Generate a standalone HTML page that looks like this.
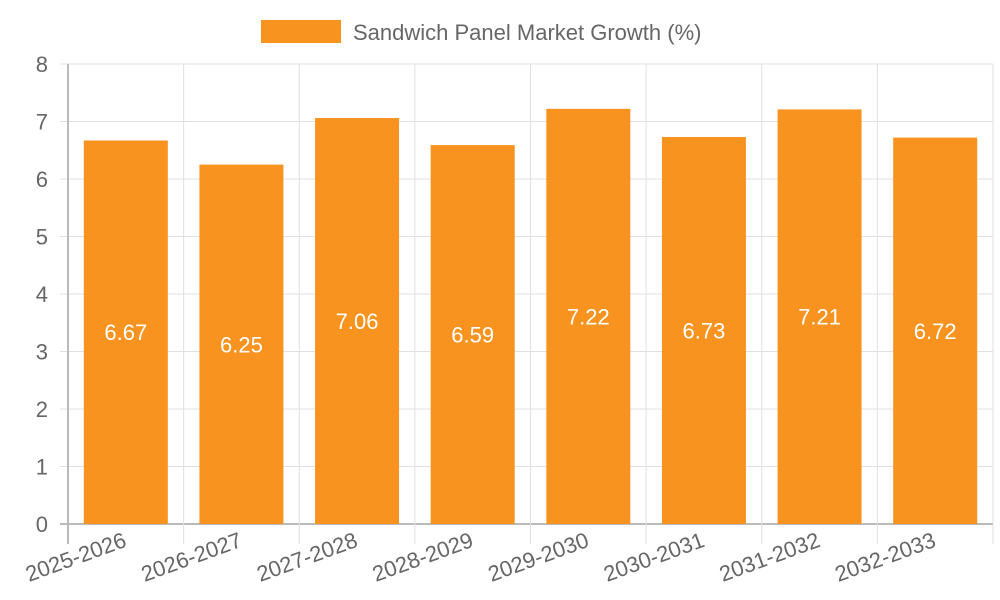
<!DOCTYPE html>
<html><head><meta charset="utf-8"><style>body{margin:0;background:#fff}svg{display:block;font-family:"Liberation Sans",sans-serif}</style></head>
<body>
<svg id="chart" width="1000" height="600">
<rect x="261" y="20" width="80" height="23" fill="#f7931e"/>
<text x="353" y="40" font-size="22" fill="#666">Sandwich Panel Market Growth (%)</text>
<g id="grid"></g><g id="bars"></g>
</svg>
<script>
const categories=["2025-2026","2026-2027","2027-2028","2028-2029","2029-2030","2030-2031","2031-2032","2032-2033"];
const values=[6.67,6.25,7.06,6.59,7.22,6.73,7.21,6.72];
const yTicks=[0,1,2,3,4,5,6,7,8];
const NS="http://www.w3.org/2000/svg";
const L=68,R=993,T=64,B=524,yMax=8;
const y=v=>B-(v/yMax)*(B-T);
const cw=(R-L)/categories.length;
const x=i=>L+cw*i;
const grid=document.getElementById('grid'),bars=document.getElementById('bars');
function mk(tag,attrs,parent){const e=document.createElementNS(NS,tag);for(const k in attrs)e.setAttribute(k,attrs[k]);parent.appendChild(e);return e;}
yTicks.forEach(t=>{
 const ln=mk('line',{x1:60,x2:R,y1:y(t),y2:y(t),stroke:t===0?'#bbb':'#e0e0e0','stroke-width':t===0?2:1},grid);
 
 
 const tx=mk('text',{x:48,y:y(t)+8,'font-size':22,fill:'#666','text-anchor':'end'},grid);
 tx.textContent=t;
 
 
});
for(let i=0;i<=categories.length;i++){
 const ln=mk('line',{x1:x(i),x2:x(i),y1:T,y2:544,stroke:i===0?'#bbb':'#e0e0e0','stroke-width':i===0?2:1},grid);
 
 
}
categories.forEach((c,i)=>{
 const cx=x(i)+cw/2,bw=84;
 const r=mk('rect',{x:cx-bw/2,y:y(values[i]),width:bw,height:B-y(values[i]),fill:'#f7931e'},bars);
 
 
 const v=mk('text',{x:cx,y:(y(values[i])+B)/2+8,'font-size':22,fill:'#fff','text-anchor':'middle'},bars);
 v.textContent=values[i].toFixed(2);
 
 
 const lx=cx+2,ly=546;
 const t=mk('text',{x:lx,y:ly,'font-size':22,fill:'#666','text-anchor':'end',transform:`rotate(-20 ${lx} ${ly})`},bars);
 t.textContent=c;
 
 
});
</script>
</body></html>
